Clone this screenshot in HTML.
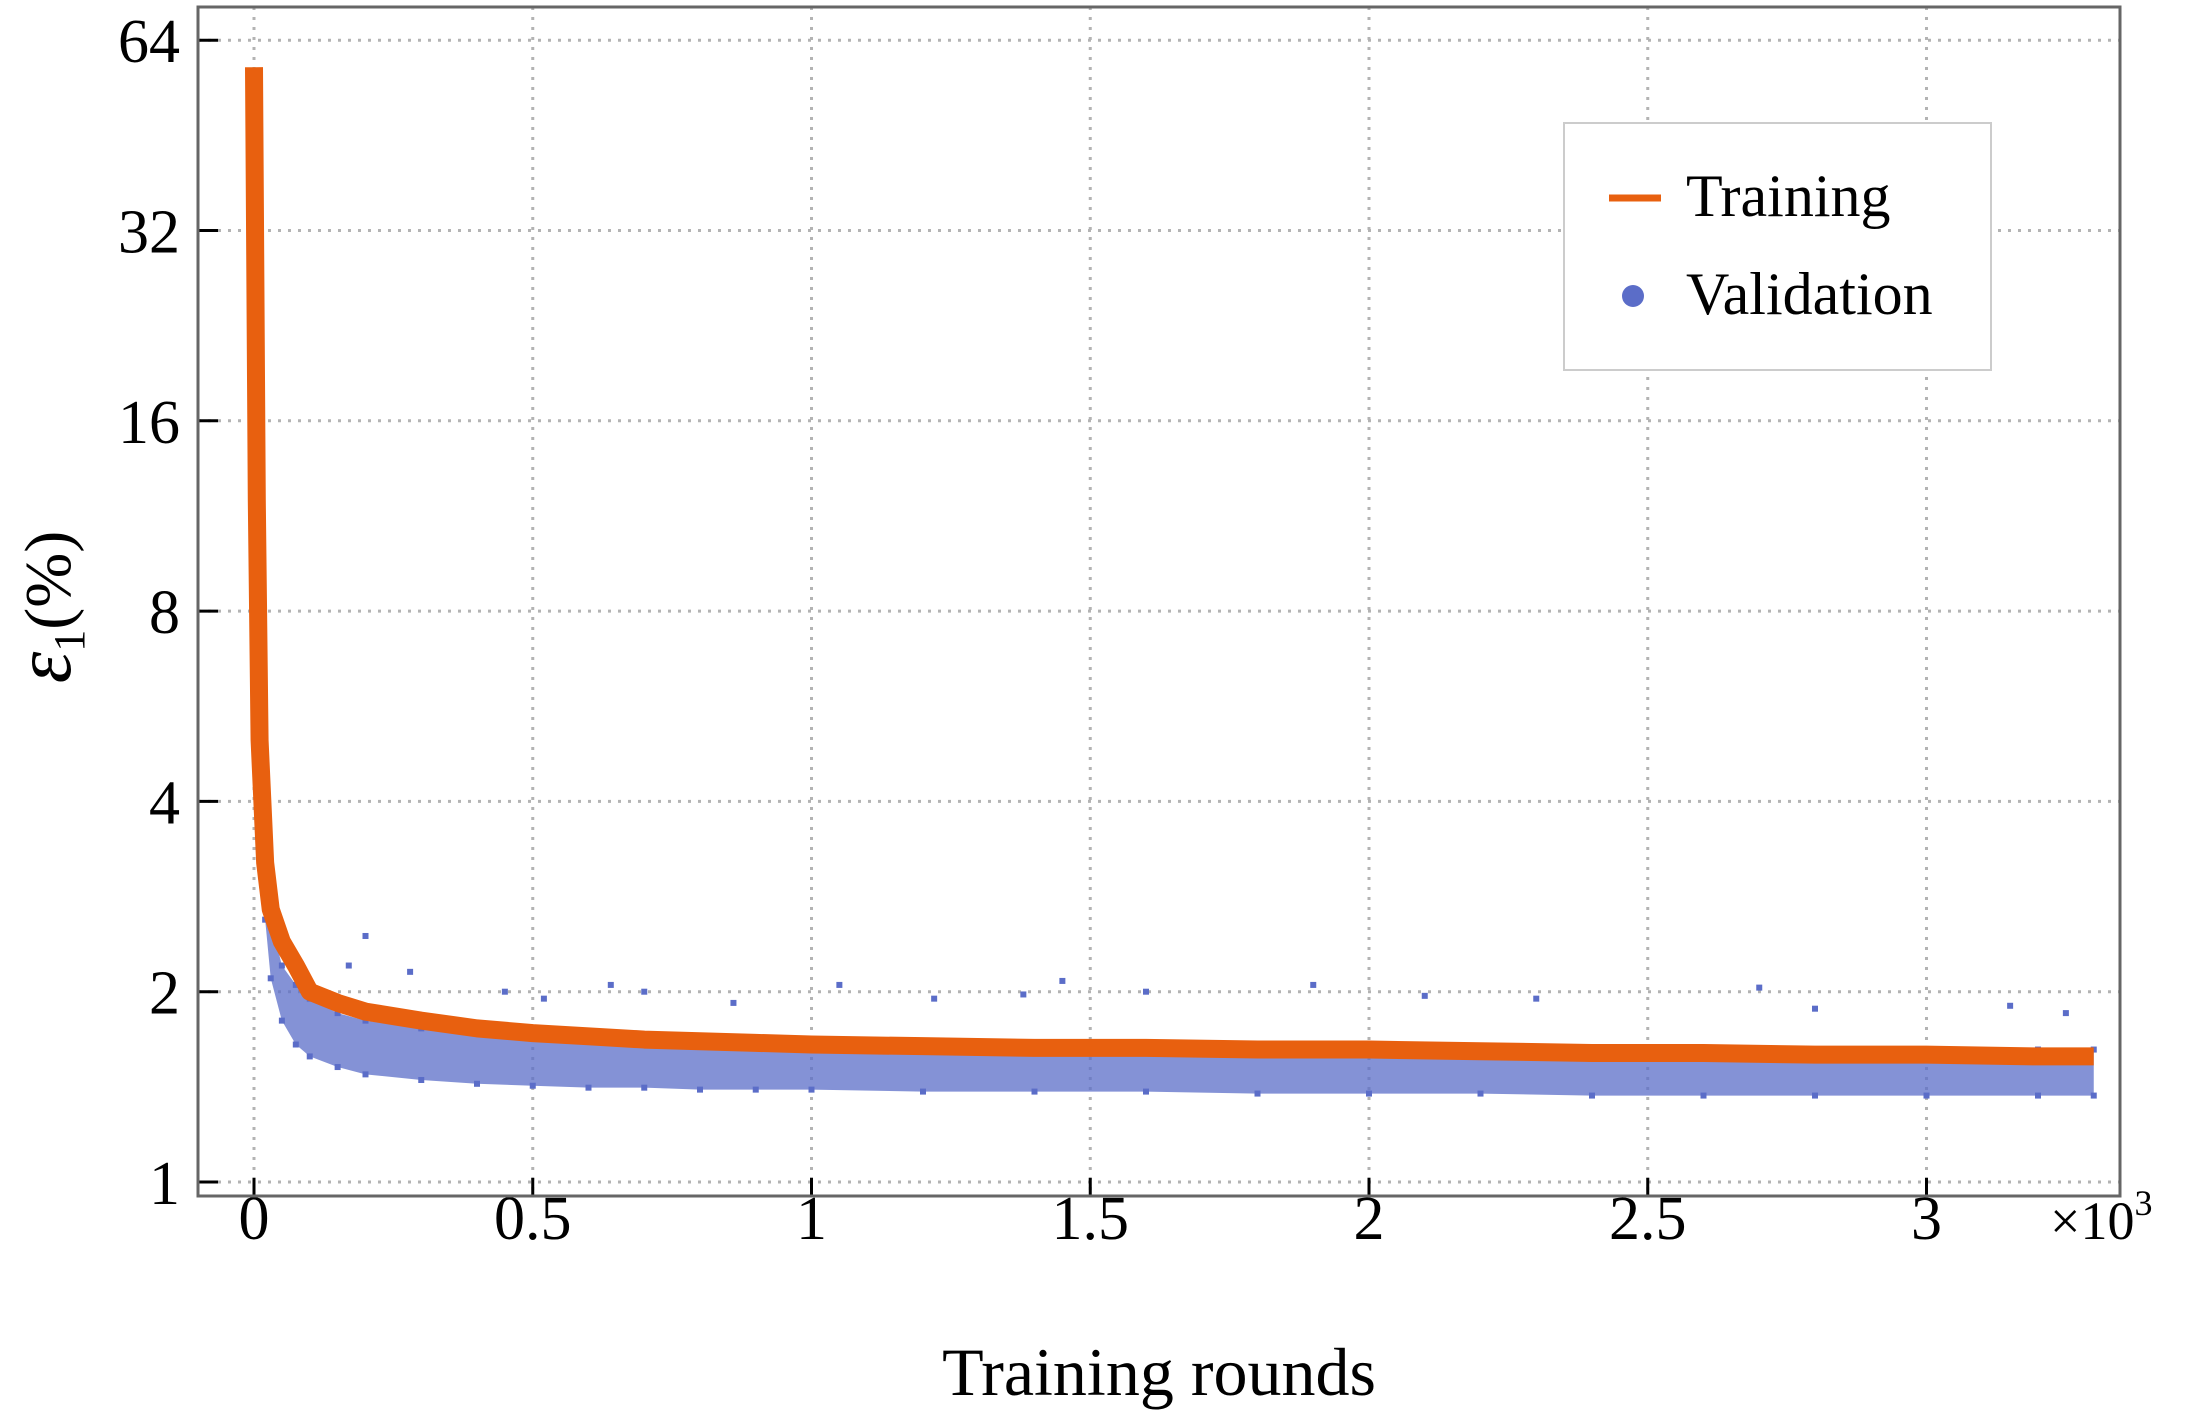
<!DOCTYPE html>
<html><head><meta charset="utf-8"><style>
html,body{margin:0;padding:0;background:#fff;}
svg{display:block;font-family:"Liberation Serif",serif;}
</style></head><body>
<svg id="chart" width="2188" height="1416" viewBox="0 0 2188 1416">
<g id="grid"></g>
<g id="series"></g>
<g id="axes"></g>
<g>
<rect x="1564" y="123" width="427" height="247" fill="#fff" stroke="#ccc" stroke-width="2"/>
<line x1="1609" y1="198" x2="1661" y2="198" stroke="#E8600F" stroke-width="7"/>
<text x="1686" y="216" font-size="60">Training</text>
<circle cx="1633" cy="296" r="11" fill="#5B6DC8"/>
<text x="1686" y="314" font-size="60">Validation</text>
</g>
<text x="1159" y="1395" font-size="68" text-anchor="middle">Training rounds</text>
<text transform="translate(70,607) rotate(-90)" font-size="66" text-anchor="middle"><tspan font-style="italic" font-size="80">ε</tspan><tspan font-size="44" dy="14">1</tspan><tspan dy="-14">(%)</tspan></text>
<text x="2050" y="1239" font-size="54">×10<tspan font-size="36" dy="-24">3</tspan></text>
</svg>
<script>
const rounds=[0,5,10,20,30,50,75,100,150,200,300,400,500,600,700,800,900,1000,1200,1400,1600,1800,2000,2200,2400,2600,2800,3000,3200,3300];
const trainMid=[58,12,5,3.2,2.7,2.4,2.2,2.0,1.92,1.86,1.8,1.75,1.72,1.7,1.68,1.67,1.66,1.65,1.64,1.63,1.63,1.62,1.62,1.61,1.6,1.6,1.59,1.59,1.58,1.58];
const valHigh=[22,10,4.5,3.1,2.6,2.2,2.05,1.95,1.85,1.8,1.75,1.72,1.7,1.68,1.67,1.66,1.66,1.65,1.65,1.64,1.64,1.63,1.63,1.63,1.62,1.62,1.62,1.62,1.62,1.62];
const valLow=[12,6,3.5,2.6,2.1,1.8,1.65,1.58,1.52,1.48,1.45,1.43,1.42,1.41,1.41,1.40,1.40,1.40,1.39,1.39,1.39,1.38,1.38,1.38,1.37,1.37,1.37,1.37,1.37,1.37];
const outX=[200,280,170,450,640,700,1050,1220,1450,1380,1600,1900,2100,2300,2700,2800,3150,3250,520,860];
const outY=[2.45,2.15,2.2,2.0,2.05,2.0,2.05,1.95,2.08,1.98,2.0,2.05,1.97,1.95,2.03,1.88,1.9,1.85,1.95,1.92];
const xTicks=[0,500,1000,1500,2000,2500,3000];
const xLabels=["0","0.5","1","1.5","2","2.5","3"];
const yTicks=[1,2,4,8,16,32,64];
const NS="http://www.w3.org/2000/svg";
const L=198,R=2120,T=7,B=1196;
const X=v=>254+v*0.5575;
const Y=v=>1182-Math.log2(v)*190.3;
function mk(t,a,p){const e=document.createElementNS(NS,t);for(const k in a)e.setAttribute(k,a[k]);p.appendChild(e);return e;}
const grid=document.getElementById('grid'),ser=document.getElementById('series'),ax=document.getElementById('axes');
xTicks.forEach((t,i)=>{
 const g=mk('line',{x1:X(t),x2:X(t),y1:T,y2:B,stroke:'#b3b3b3','stroke-width':3,'stroke-dasharray':'3 7'},grid);
 
 
 const tk=mk('line',{x1:X(t),x2:X(t),y1:B,y2:B-18,stroke:'#000','stroke-width':3},ax);
 
 
 const lb=mk('text',{x:X(t),y:1239,'font-size':62,'text-anchor':'middle'},ax);lb.textContent=xLabels[i];
 
 
});
yTicks.forEach(t=>{
 const g=mk('line',{x1:L,x2:R,y1:Y(t),y2:Y(t),stroke:'#b3b3b3','stroke-width':3,'stroke-dasharray':'3 7'},grid);
 
 
 const tk=mk('line',{x1:L,x2:L+20,y1:Y(t),y2:Y(t),stroke:'#000','stroke-width':3},ax);
 
 
 const lb=mk('text',{x:180,y:Y(t)+22,'font-size':62,'text-anchor':'end'},ax);lb.textContent=t;
 
 
});
const fr=mk('rect',{x:L,y:T,width:R-L,height:B-T,fill:'none',stroke:'#666','stroke-width':3},ax);


let pts=rounds.map((r,i)=>X(r)+','+Y(valHigh[i])).concat(rounds.map((r,i)=>X(r)+','+Y(valLow[i])).reverse());
const vb=mk('polygon',{points:pts.join(' '),fill:'#5B6DC8','fill-opacity':0.75},ser);


rounds.forEach((r,i)=>{[valHigh[i],valLow[i]].forEach(v=>{
 const d=mk('rect',{x:X(r)-3,y:Y(v)-3,width:6,height:6,fill:'#5B6DC8'},ser);
 
 
});});
outX.forEach((r,i)=>{
 const d=mk('rect',{x:X(r)-3,y:Y(outY[i])-3,width:6,height:6,fill:'#5B6DC8'},ser);
 
 
});
const tl=mk('polyline',{points:rounds.map((r,i)=>X(r)+','+Y(trainMid[i])).join(' '),fill:'none',stroke:'#E8600F','stroke-width':18,'stroke-linejoin':'round'},ser);


</script>
</body></html>
